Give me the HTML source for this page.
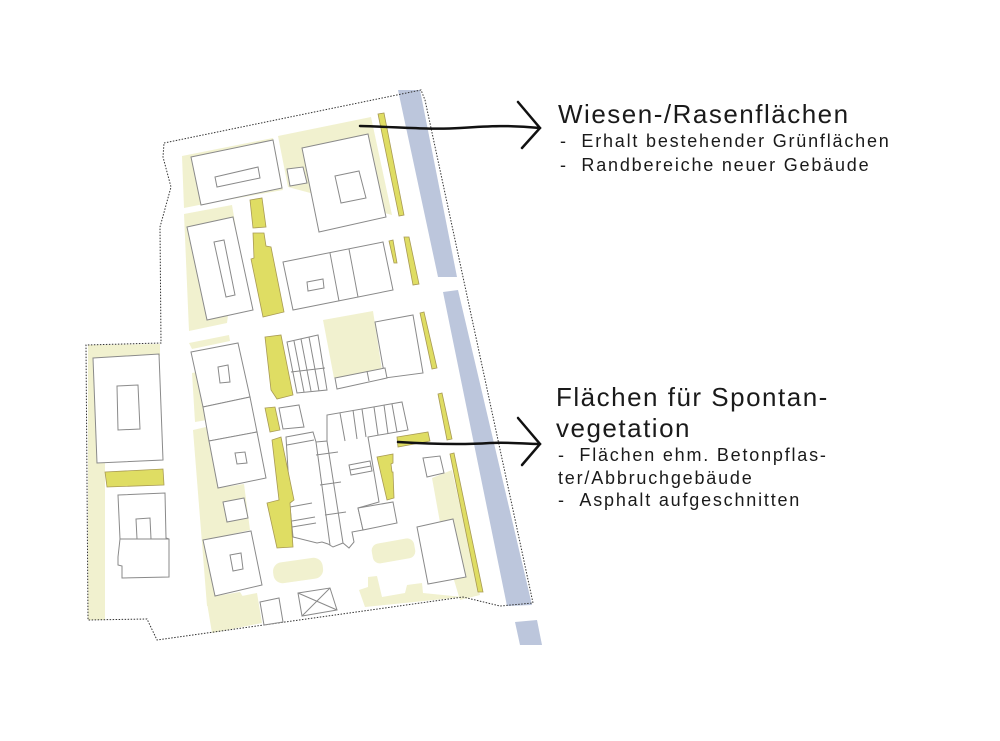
<!DOCTYPE html>
<html><head><meta charset="utf-8"><style>
html,body{margin:0;padding:0;background:#fff;}
body{width:1000px;height:741px;position:relative;overflow:hidden;font-family:"Liberation Sans",sans-serif;color:#1a1a1a;}
.t{position:absolute;white-space:nowrap;}
.h{font-size:26px;letter-spacing:1.5px;}
.b{font-size:18px;letter-spacing:1.8px;}
</style></head><body>
<svg width="1000" height="741" style="position:absolute;left:0;top:0">
<g fill="#f1f1cf" stroke="none">
<polygon points="182,156 273,138 283,190 199,205 184,208"/>
<polygon points="278,136 371,117 392,215 288,187"/>
<polygon points="184,214 232,205 238,240 227,323 189,331"/>
<polygon points="323,320 373,311 383,377 334,378"/>
<polygon points="189,343 229,335 230,341 192,349"/>
<polygon points="88,345 160,344 160,356 105,358 105,620 88,620"/>
<polygon points="192,373 203,371 207,420 195,422"/>
<polygon points="193,430 206,427 218,488 244,484 250,530 206,540 216,596 240,592 245,600 207,606"/>
<polygon points="207,603 257,593 262,623 212,633"/>
<rect x="273" y="560" width="50" height="21" rx="9" transform="rotate(-8 298 570)"/>
<rect x="372" y="541" width="43" height="20" rx="7" transform="rotate(-10 393 551)"/>
<polygon points="432,478 452,470 480,595 460,600 445,550"/>
<polygon points="359,590 368,587 368,577 377,576 382,597 405,593 407,585 422,583 423,593 463,597 365,607"/>
</g>
<g fill="#bcc6dc">
<polygon points="398,90 420,90 457,277 438,277"/>
<polygon points="443,292 458,290 532,605 507,606"/>
<polygon points="515,622 537,620 542,645 520,645"/>
</g>
<polyline points="164,143 421,90 425,100 533,603 500,606 463,597 157,640 147,619 88,620 86,345 161,343 160,227 171,187 163,157 164,143" fill="none" stroke="#333" stroke-width="1" stroke-dasharray="1.5,1.5"/>
<g fill="#fff" stroke="#8a8a8a" stroke-width="1">
<polygon points="191,157 273,140 282,188 201,205"/>
<polygon points="215,177 258,167 260,178 217,187"/>
<polygon points="287,169 303,167 307,183 290,186"/>
<polygon points="302,148 368,134 386,217 319,232"/>
<polygon points="335,176 359,171 366,198 341,203"/>
<polygon points="187,227 233,217 253,310 207,320"/>
<polygon points="214,242 224,240 235,295 226,297"/>
<polygon points="283,262 383,242 393,290 293,310"/>
<line x1="330" y1="253" x2="339" y2="301"/><line x1="349" y1="249" x2="358" y2="297"/>
<polygon points="307,282 323,279 324,288 308,291"/>
<polygon points="375,322 413,315 423,373 385,378"/>
<polygon points="335,378 385,368 387,378 337,389"/><line x1="367" y1="371" x2="369" y2="381"/>
<polygon points="93,358 159,354 163,460 97,463"/>
<polygon points="117,386 138,385 140,429 118,430"/>
<polygon points="118,495 165,493 166,538 169,539 169,577 122,578 122,566 118,565 118,557 120,539"/>
<polygon points="136,519 150,518 151,539 137,539"/><line x1="120" y1="539" x2="169" y2="539"/>
<polygon points="191,352 238,343 250,397 203,407"/>
<polygon points="203,407 250,397 257,432 209,441"/>
<polygon points="209,441 257,432 266,478 218,488"/>
<polygon points="218,367 228,365 230,382 220,383"/>
<polygon points="235,453 245,452 247,463 237,464"/>
<polygon points="223,502 244,498 248,518 227,522"/>
<polygon points="203,540 251,531 262,585 215,596"/>
<polygon points="230,555 241,553 243,569 233,571"/>
<polygon points="260,602 279,598 283,622 264,625"/>
<polygon points="287,342 318,335 327,390 297,393"/>
<line x1="294" y1="341" x2="304" y2="392"/><line x1="301" y1="339" x2="311" y2="391"/><line x1="309" y1="337" x2="319" y2="391"/><line x1="291" y1="372" x2="325" y2="368"/>
<polygon points="279,408 299,405 304,427 283,429"/>
<polygon points="286,437 313,432 316,442 327,441 327,415 402,402 408,430 368,437 379,502 358,508 363,530 352,532 354,542 349,548 343,543 333,547 328,544 322,542 317,543 293,537 290,507 288,470"/>
<line x1="340" y1="413" x2="345" y2="441"/><line x1="353" y1="410" x2="357" y2="439"/><line x1="362" y1="409" x2="366" y2="437"/><line x1="374" y1="407" x2="378" y2="435"/><line x1="384" y1="405" x2="388" y2="434"/><line x1="392" y1="404" x2="397" y2="432"/>
<line x1="287" y1="445" x2="314" y2="440"/>
<line x1="316" y1="442" x2="330" y2="545"/><line x1="327" y1="441" x2="343" y2="543"/>
<line x1="316" y1="455" x2="338" y2="452"/><line x1="320" y1="485" x2="341" y2="482"/><line x1="325" y1="515" x2="346" y2="512"/>
<polygon points="349,465 370,461 372,471 351,475"/><line x1="350" y1="470" x2="371" y2="466"/>
<line x1="290" y1="507" x2="312" y2="503"/><line x1="292" y1="521" x2="315" y2="517"/><line x1="292" y1="527" x2="316" y2="523"/>
<polygon points="358,508 393,502 397,523 363,530"/>
<polygon points="423,458 440,456 444,473 427,477"/>
<polygon points="417,527 453,519 466,577 428,584"/>
<polygon points="298,593 330,588 337,610 302,616"/>
<line x1="298" y1="593" x2="337" y2="610"/><line x1="330" y1="588" x2="302" y2="616"/>
</g>
<g fill="#dfdd63" stroke="#a89a55" stroke-width="0.8">
<polygon points="378,114 384,113 404,215 399,216"/>
<polygon points="250,200 262,198 266,227 253,228"/>
<polygon points="253,233 264,233 266,246 271,247 284,312 263,317 251,259 254,258"/>
<polygon points="389,241 393,240 397,263 394,263"/>
<polygon points="404,237 409,237 419,284 413,285"/>
<polygon points="420,313 424,312 437,368 432,369"/>
<polygon points="105,472 163,469 164,485 107,487"/>
<polygon points="265,337 281,335 293,395 277,399 271,390"/>
<polygon points="265,408 275,407 280,430 270,432"/>
<polygon points="272,440 281,437 294,500 290,503 293,547 277,548 267,503 279,500"/>
<polygon points="397,437 428,432 430,441 398,447"/>
<polygon points="377,457 393,454 393,463 391,464 392,472 393,472 394,498 387,500"/>
<polygon points="438,394 442,393 452,439 447,440"/>
<polygon points="450,454 454,453 483,592 478,592"/>
</g>
<g fill="none" stroke="#111" stroke-width="2.5" stroke-linecap="round">
<path d="M360,126 C400,127 430,130 460,128 C490,126 510,125 540,128"/>
<path d="M518,102 L540,128 L522,148"/>
<path d="M398,442 C430,444 460,445 490,443 C510,442 525,444 540,444"/>
<path d="M518,418 L540,444 L522,465"/>
</g>
</svg>
<div class="t h" style="left:558px;top:99px;">Wiesen-/Rasenflächen</div>
<div class="t b" style="left:560px;top:131px;">-&nbsp;&nbsp;Erhalt bestehender Grünflächen</div>
<div class="t b" style="left:560px;top:155px;">-&nbsp;&nbsp;Randbereiche neuer Gebäude</div>
<div class="t h" style="left:556px;top:382px;line-height:31px;">Flächen für Spontan-<br>vegetation</div>
<div class="t b" style="left:558px;top:444px;line-height:23px;">-&nbsp;&nbsp;Flächen ehm. Betonpflas-<br>ter/Abbruchgebäude</div>
<div class="t b" style="left:558px;top:490px;">-&nbsp;&nbsp;Asphalt aufgeschnitten</div>
</body></html>
